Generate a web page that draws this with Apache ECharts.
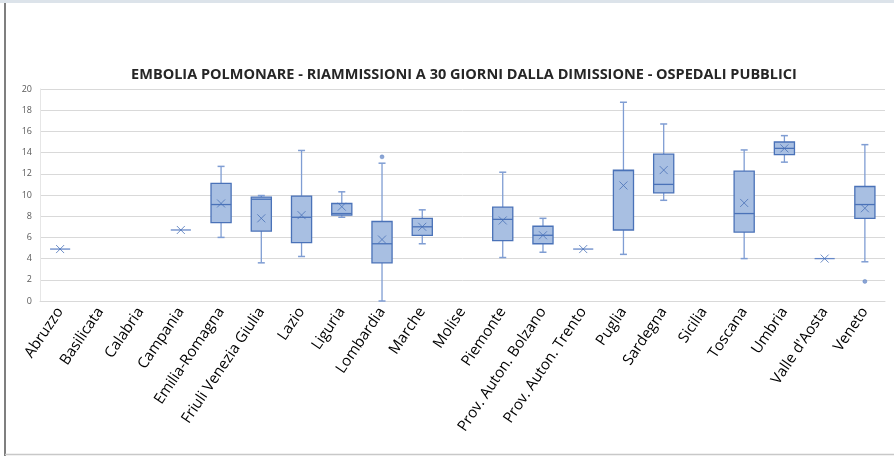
<!DOCTYPE html>
<html>
<head>
<meta charset="utf-8">
<script src="https://cdn.jsdelivr.net/npm/echarts@6/dist/echarts.min.js"></script>
<style>html,body{margin:0;padding:0;background:#fff;}#c{width:894px;height:456px;}</style>
</head>
<body>
<div id="c"></div>
<script>
var categories = ['Abruzzo','Basilicata','Calabria','Campania','Emilia-Romagna','Friuli Venezia Giulia','Lazio','Liguria','Lombardia','Marche','Molise','Piemonte','Prov. Auton. Bolzano','Prov. Auton. Trento','Puglia','Sardegna','Sicilia','Toscana','Umbria',"Valle d'Aosta",'Veneto'];
var mins    = [4.9, null, null, 6.7, 6.0, 3.6, 4.2, 7.9, 0.0, 5.4, null, 4.1, 4.6, 4.9, 4.4, 9.5, null, 4.0, 13.1, 4.0, 3.7];
var q1s     = [4.9, null, null, 6.7, 7.4, 6.6, 5.5, 8.1, 3.6, 6.2, null, 5.7, 5.4, 4.9, 6.7, 10.2, null, 6.5, 13.8, 4.0, 7.8];
var medians = [4.9, null, null, 6.7, 9.1, 9.6, 7.9, 8.25, 5.4, 7.0, null, 7.7, 6.2, 4.9, 12.3, 11.0, null, 8.25, 14.4, 4.0, 9.1];
var q3s     = [4.9, null, null, 6.7, 11.1, 9.8, 9.9, 9.2, 7.5, 7.8, null, 8.85, 7.05, 4.9, 12.35, 13.85, null, 12.25, 15.0, 4.0, 10.8];
var maxs    = [4.9, null, null, 6.7, 12.7, 9.95, 14.2, 10.3, 13.0, 8.6, null, 12.15, 7.8, 4.9, 18.75, 16.7, null, 14.25, 15.6, 4.0, 14.75];
var means   = [4.9, null, null, 6.7, 9.2, 7.8, 8.1, 8.9, 5.8, 7.0, null, 7.6, 6.2, 4.9, 10.9, 12.35, null, 9.25, 14.4, 4.0, 8.75];
var outliers = [['Lombardia', 13.6], ['Veneto', 1.85]];
var yTicks = [0, 2, 4, 6, 8, 10, 12, 14, 16, 18, 20];

var boxData = [];
var meanData = [];
for (var i = 0; i < categories.length; i++) {
  if (mins[i] !== null) {
    boxData.push([i, mins[i], q1s[i], medians[i], q3s[i], maxs[i]]);
    meanData.push([i, means[i]]);
  }
}
var outData = outliers.map(function (o) { return [categories.indexOf(o[0]), o[1]]; });

var boxStroke = '#4A72B8';
var boxFill = '#A8BFE2';
var whisk = '#7F9DD3';

function renderBox(params, api) {
  var idx = api.value(0);
  var pMin = api.coord([idx, api.value(1)]);
  var pQ1 = api.coord([idx, api.value(2)]);
  var pMed = api.coord([idx, api.value(3)]);
  var pQ3 = api.coord([idx, api.value(4)]);
  var pMax = api.coord([idx, api.value(5)]);
  var bw = api.size([1, 0])[0] * 0.5;
  var cap = 7;
  var x = pMin[0];
  if (Math.abs(pQ1[1] - pQ3[1]) < 0.5 && Math.abs(pMin[1] - pMax[1]) < 0.5) {
    return {type: 'line', shape: {x1: x - bw / 2, y1: pMed[1], x2: x + bw / 2, y2: pMed[1]}, style: {stroke: '#6688C8', lineWidth: 1.3}};
  }
  var children = [
    {type: 'line', shape: {x1: x, y1: pQ3[1], x2: x, y2: pMax[1]}, style: {stroke: whisk, lineWidth: 1.3}},
    {type: 'line', shape: {x1: x, y1: pQ1[1], x2: x, y2: pMin[1]}, style: {stroke: whisk, lineWidth: 1.3}},
    {type: 'line', shape: {x1: x - cap / 2, y1: pMax[1], x2: x + cap / 2, y2: pMax[1]}, style: {stroke: whisk, lineWidth: 1.5}},
    {type: 'line', shape: {x1: x - cap / 2, y1: pMin[1], x2: x + cap / 2, y2: pMin[1]}, style: {stroke: whisk, lineWidth: 1.5}},
    {type: 'rect', shape: {x: x - bw / 2, y: pQ3[1], width: bw, height: pQ1[1] - pQ3[1]}, style: {fill: boxFill, stroke: boxStroke, lineWidth: 1.3}},
    {type: 'line', shape: {x1: x - bw / 2, y1: pMed[1], x2: x + bw / 2, y2: pMed[1]}, style: {stroke: boxStroke, lineWidth: 1.3}}
  ];
  return {type: 'group', children: children};
}

var chart = echarts.init(document.getElementById('c'), null, {renderer: 'canvas'});
chart.setOption({
  animation: false,
  backgroundColor: '#ffffff',
  title: {
    text: 'EMBOLIA POLMONARE - RIAMMISSIONI A 30 GIORNI DALLA DIMISSIONE - OSPEDALI PUBBLICI',
    left: 459, top: 62, textAlign: 'center',
    textStyle: {fontFamily: 'Open Sans', fontWeight: 'bold', fontSize: 14.5, color: '#262626'}
  },
  graphic: [
    {type: 'rect', shape: {x: 0, y: 0, width: 894, height: 3}, style: {fill: '#DCE3EA'}, silent: true},
    {type: 'line', shape: {x1: 5, y1: 3, x2: 5, y2: 456}, style: {stroke: '#7F7F7F', lineWidth: 2}, silent: true},
    {type: 'line', shape: {x1: 5, y1: 454.5, x2: 894, y2: 454.5}, style: {stroke: '#C8C8C8', lineWidth: 1.5}, silent: true}
  ],
  grid: {left: 40, right: 9, top: 89, bottom: 155},
  xAxis: {
    type: 'category', data: categories, boundaryGap: true,
    axisLine: {lineStyle: {color: '#D9D9D9'}},
    axisTick: {show: false},
    axisLabel: {rotate: 56, interval: 0, fontFamily: 'Open Sans', fontSize: 15, color: '#000000', margin: 8}
  },
  yAxis: {
    type: 'value', min: yTicks[0], max: yTicks[yTicks.length - 1], interval: yTicks[1] - yTicks[0],
    axisLine: {show: true, lineStyle: {color: '#E6E6E6'}},
    axisTick: {show: false},
    splitLine: {lineStyle: {color: '#D9D9D9'}},
    axisLabel: {fontFamily: 'Open Sans', fontSize: 9, color: '#595959', margin: 8}
  },
  series: [
    {type: 'custom', renderItem: renderBox, data: boxData, encode: {x: 0, y: [1, 2, 3, 4, 5]}, z: 2},
    {type: 'scatter', data: meanData, symbol: 'path://M0,0L10,10M10,0L0,10', symbolSize: 8,
      itemStyle: {color: 'rgba(0,0,0,0)', borderColor: boxStroke, borderWidth: 1}, z: 3},
    {type: 'scatter', data: outData, symbol: 'circle', symbolSize: 4,
      itemStyle: {color: '#6F90CC', borderColor: boxStroke, borderWidth: 0.5}, z: 3}
  ]
});
</script>
</body>
</html>
